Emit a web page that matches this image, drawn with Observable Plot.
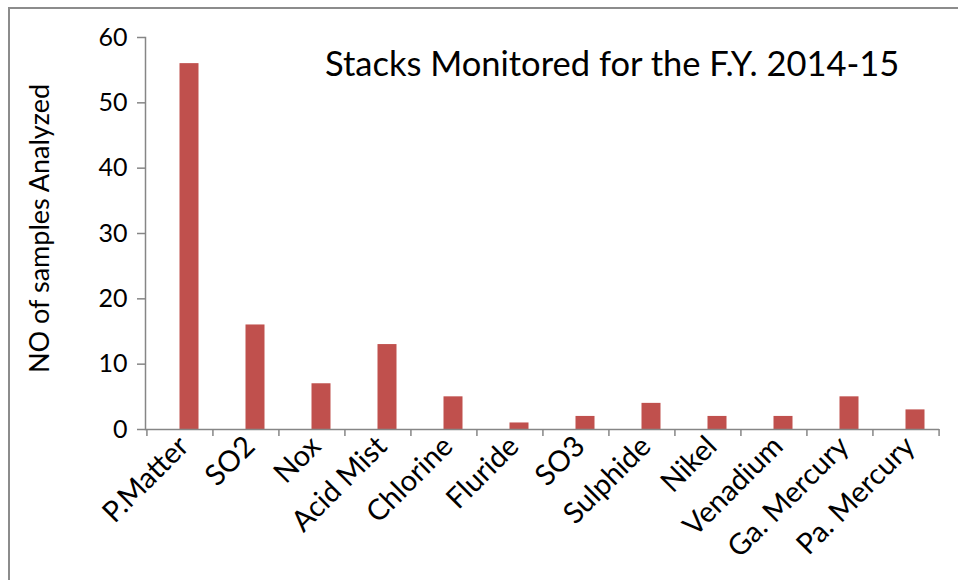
<!DOCTYPE html>
<html>
<head>
<meta charset="utf-8">
<script src="https://cdn.jsdelivr.net/npm/d3@7"></script>
<script src="https://cdn.jsdelivr.net/npm/@observablehq/plot@0.6"></script>
<style>
  html, body { margin: 0; padding: 0; background: #fff; }
  #wrap { position: relative; width: 958px; height: 580px; overflow: hidden; font-family: Lato, "Open Sans", sans-serif; }
  #border { position: absolute; left: 8px; top: 7px; width: 1000px; height: 1000px; border-left: 2px solid #8c8c8c; border-top: 2px solid #8c8c8c; box-sizing: border-box; }
  #title { position: absolute; left: 325px; top: 42px; font-size: 34.5px; color: #000; white-space: nowrap; }
  svg { position: absolute; left: 0; top: 0; }
</style>
</head>
<body>
<div id="wrap">
  <div id="border"></div>
  <div id="chart"></div>
  <div id="title">Stacks Monitored for the F.Y. 2014-15</div>
</div>
<script>
const categories = ["P.Matter", "SO2", "Nox", "Acid Mist", "Chlorine", "Fluride", "SO3", "Sulphide", "Nikel", "Venadium", "Ga. Mercury", "Pa. Mercury"];
const samples = [56, 16, 7, 13, 5, 1, 2, 4, 2, 2, 5, 3];
const yTicks = [0, 10, 20, 30, 40, 50, 60];
const yLabel = "NO of samples Analyzed";

const data = categories.map((c, i) => ({category: c, value: samples[i]}));

const W = 958, H = 580, mL = 145, mR = 19, mT = 37, mB = 151;
const step = (W - mL - mR) / categories.length;
const barW = 19;
const pad = 1 - barW / step;
const axisColor = "#868686";

const chart = Plot.plot({
  width: W,
  height: H,
  marginLeft: mL,
  marginRight: mR,
  marginTop: mT,
  marginBottom: mB,
  style: {fontFamily: "Lato, 'Open Sans', sans-serif", color: "#000", background: "transparent"},
  x: {domain: categories, paddingInner: pad, paddingOuter: pad / 2, label: null},
  y: {domain: [0, 60], label: null},
  marks: [
    Plot.barY(data, {x: "category", y: "value", fill: "#C0504D", dx: barW / 2}),
    Plot.frame({anchor: "left", stroke: axisColor, strokeWidth: 1.5}),
    Plot.ruleY([0], {stroke: axisColor, strokeWidth: 1.5}),
    Plot.axisY(yTicks, {tickSize: 8, tickPadding: 10, fontSize: 25, stroke: axisColor, label: null, tickFormat: d => d, strokeWidth: 1.5}),
    Plot.axisX({tickSize: 0, tickPadding: 12, tickRotate: -45, fontSize: 29, label: null, dx: 4}),
    Plot.axisX(categories, {tickSize: 7, dx: -step / 2, tickFormat: () => "", stroke: axisColor, strokeWidth: 1.5, label: null}),
    Plot.axisX([categories[categories.length - 1]], {tickSize: 7, dx: step / 2, tickFormat: () => "", stroke: axisColor, strokeWidth: 1.5, label: null}),
    Plot.text([yLabel], {frameAnchor: "left", textAnchor: "middle", rotate: -90, dx: -105, dy: -5, fontSize: 27, fill: "#000"})
  ]
});
document.getElementById("chart").appendChild(chart);
</script>
</body>
</html>
